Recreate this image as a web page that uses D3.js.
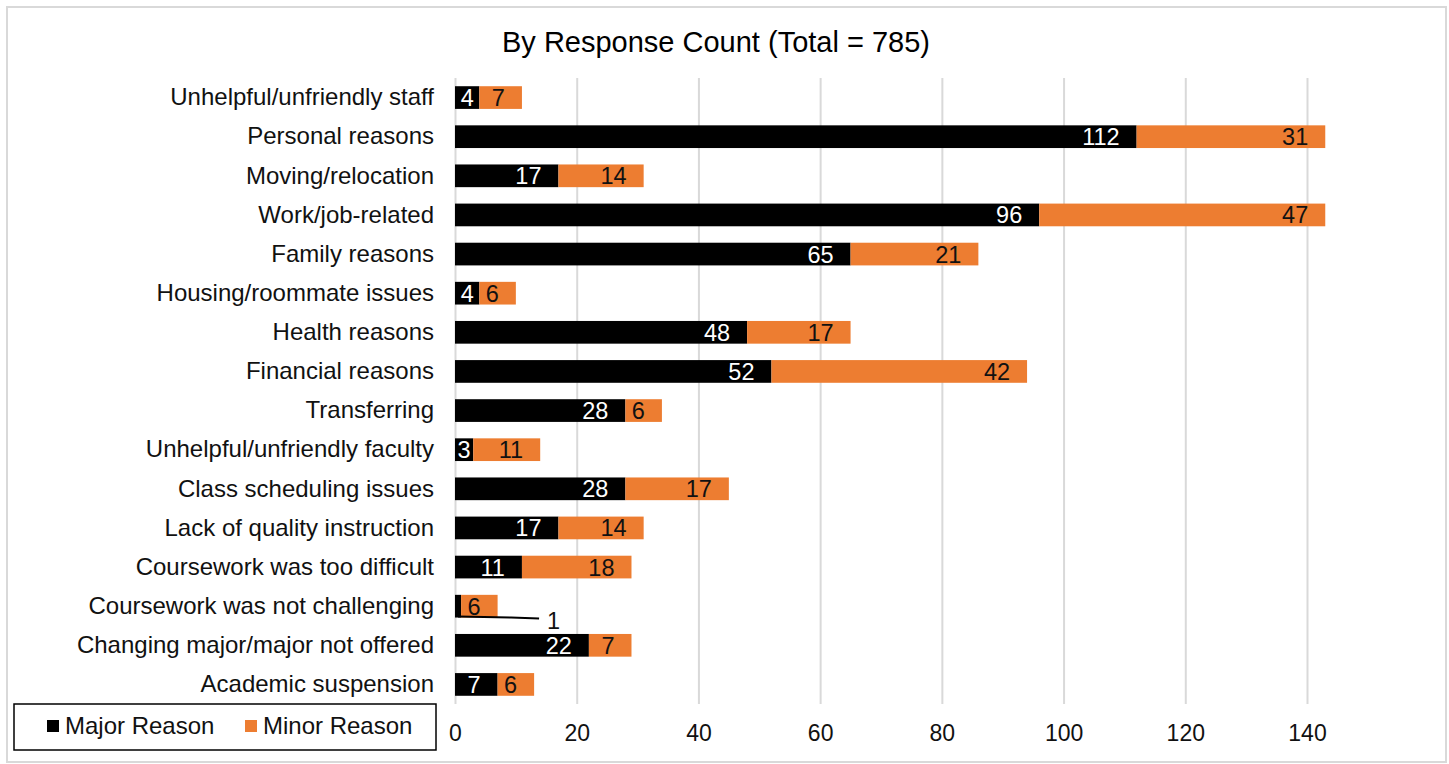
<!DOCTYPE html>
<html>
<head>
<meta charset="utf-8">
<script src="https://cdn.jsdelivr.net/npm/d3@7"></script>
<style>
  body { margin: 0; background: #fff; }
  svg { display: block; }
  text { font-family: "Liberation Sans", Arial, sans-serif; }
</style>
</head>
<body>
<svg id="chart" width="1449" height="764"></svg>
<script>
// Reasons for leaving, response counts split by major / minor reason
const categories = [
  "Unhelpful/unfriendly staff",
  "Personal reasons",
  "Moving/relocation",
  "Work/job-related",
  "Family reasons",
  "Housing/roommate issues",
  "Health reasons",
  "Financial reasons",
  "Transferring",
  "Unhelpful/unfriendly faculty",
  "Class scheduling issues",
  "Lack of quality instruction",
  "Coursework was too difficult",
  "Coursework was not challenging",
  "Changing major/major not offered",
  "Academic suspension"
];
const majorValues = [4, 112, 17, 96, 65, 4, 48, 52, 28, 3, 28, 17, 11, 1, 22, 7];
const minorValues = [7, 31, 14, 47, 21, 6, 17, 42, 6, 11, 17, 14, 18, 6, 7, 6];
const seriesNames = ["Major Reason", "Minor Reason"];
const xTicks = [0, 20, 40, 60, 80, 100, 120, 140];
const chartTitle = "By Response Count (Total = 785)";

const colors = { "Major Reason": "#000000", "Minor Reason": "#ED7D31" };
const labelColors = { "Major Reason": "#ffffff", "Minor Reason": "#111111" };

const rows = categories.map((c, i) => ({
  category: c,
  "Major Reason": majorValues[i],
  "Minor Reason": minorValues[i]
}));

const svg = d3.select("#chart");
const W = 1449, H = 764;

svg.append("rect").attr("width", W).attr("height", H).attr("fill", "#fff");
// outer chart frame
svg.append("rect")
  .attr("x", 7).attr("y", 7).attr("width", 1439).attr("height", 755)
  .attr("fill", "#fff").attr("stroke", "#d9d9d9").attr("stroke-width", 2);

const plot = { left: 455, top: 78, bottom: 704 };
const x = d3.scaleLinear().domain([0, 140]).range([plot.left, 1307]);
const y = d3.scaleBand().domain(categories)
  .range([plot.top, plot.bottom]).paddingInner(0.42).paddingOuter(0.21);

// title
svg.append("text")
  .attr("x", 716).attr("y", 52)
  .attr("text-anchor", "middle")
  .attr("font-size", 29).attr("fill", "#000")
  .text(chartTitle);

// vertical gridlines + tick labels
const xAxis = svg.append("g")
  .attr("transform", `translate(0,${plot.bottom})`)
  .call(d3.axisBottom(x).tickValues(xTicks)
    .tickSize(-(plot.bottom - plot.top)).tickPadding(21).tickFormat(d3.format("d")));
xAxis.select(".domain").remove();
xAxis.selectAll(".tick line").attr("stroke", "#d9d9d9").attr("stroke-width", 2);
xAxis.selectAll(".tick text")
  .attr("font-size", 23).attr("fill", "#111")
  .style("font-family", "'Liberation Sans', Arial, sans-serif");

// category axis
const yAxis = svg.append("g")
  .attr("transform", `translate(${plot.left},0)`)
  .call(d3.axisLeft(y).tickSize(0).tickPadding(21));
yAxis.select(".domain").remove();
yAxis.selectAll(".tick text")
  .attr("font-size", 24).attr("fill", "#111")
  .style("font-family", "'Liberation Sans', Arial, sans-serif");

// stacked bars
const stacked = d3.stack().keys(seriesNames)(rows);

const layers = svg.append("g").selectAll("g")
  .data(stacked).join("g")
  .attr("fill", d => colors[d.key]);

layers.selectAll("rect")
  .data(d => d.map(s => ({ key: d.key, s })))
  .join("rect")
  .attr("x", d => x(d.s[0]))
  .attr("y", d => y(d.s.data.category))
  .attr("width", d => x(d.s[1]) - x(d.s[0]))
  .attr("height", y.bandwidth());

// data labels: inside end of each segment, centred in short segments,
// and a callout with a leader line when a segment is too narrow for its text
const labelFont = 23.5;
const labelG = svg.append("g");
stacked.forEach(layer => {
  layer.forEach(s => {
    const v = s[1] - s[0];
    const x0 = x(s[0]), x1 = x(s[1]);
    const w = x1 - x0;
    const yc = y(s.data.category) + y.bandwidth() / 2;
    const t = labelG.append("text")
      .attr("font-size", labelFont)
      .attr("dy", "0.36em")
      .text(v);
    const tw = t.node().getComputedTextLength();
    if (w < tw + 4) {
      const yb = y(s.data.category) + y.bandwidth();
      labelG.append("path")
        .attr("d", `M${(x0 + x1) / 2},${yb - 1} L${x1 + 50},${yb} L${x1 + 78},${yb + 1}`)
        .attr("fill", "none").attr("stroke", "#000").attr("stroke-width", 2);
      t.attr("x", x1 + 86).attr("y", yb + 3)
        .attr("text-anchor", "start").attr("fill", "#111");
    } else {
      const right = (w >= tw + 22) ? x1 - 17 : (x0 + x1) / 2 + tw / 2;
      t.attr("x", right).attr("y", yc)
        .attr("text-anchor", "end").attr("fill", labelColors[layer.key]);
    }
  });
});

// legend
const legend = svg.append("g");
legend.append("rect")
  .attr("x", 14).attr("y", 704).attr("width", 422).attr("height", 46)
  .attr("fill", "#fff").attr("stroke", "#000").attr("stroke-width", 1.5);
const legendX = [47, 245];
seriesNames.forEach((name, i) => {
  legend.append("rect")
    .attr("x", legendX[i]).attr("y", 720).attr("width", 12).attr("height", 12)
    .attr("fill", colors[name]);
  legend.append("text")
    .attr("x", legendX[i] + 18).attr("y", 734)
    .attr("font-size", 24).attr("fill", "#111")
    .text(name);
});
</script>
</body>
</html>
